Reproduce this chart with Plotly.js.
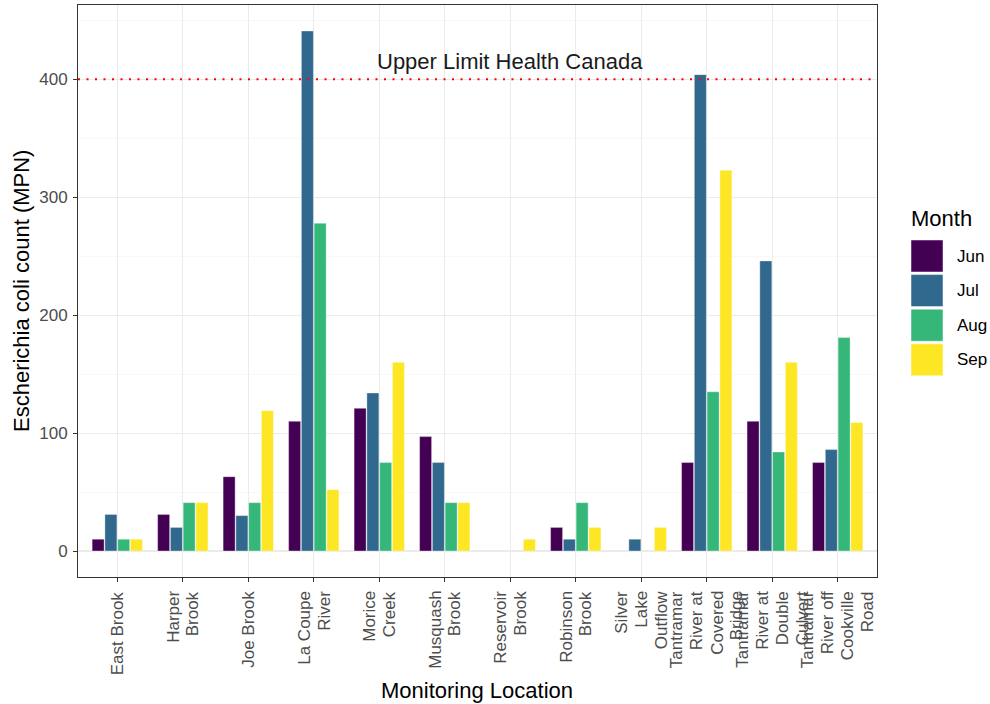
<!DOCTYPE html>
<html>
<head>
<meta charset="utf-8">
<script src="https://cdn.plot.ly/plotly-3.0.1.min.js"></script>
<style>
  html, body { margin: 0; padding: 0; background: #ffffff; }
  #chart { width: 990px; height: 704px; }
</style>
</head>
<body>
<div id="chart"></div>
<script>
// Monitoring locations
const locations = [
  "East Brook",
  "Harper Brook",
  "Joe Brook",
  "La Coupe River",
  "Morice Creek",
  "Musquash Brook",
  "Reservoir Brook",
  "Robinson Brook",
  "Silver Lake Outflow",
  "Tantramar River at Covered Bridge",
  "Tantramar River at Double Culvert",
  "Tantramar River off Cookville Road"
];

// Wrapped versions of the location names used for the rotated axis labels
const locationLabelLines = [
  ["East Brook"],
  ["Harper", "Brook"],
  ["Joe Brook"],
  ["La Coupe", "River"],
  ["Morice", "Creek"],
  ["Musquash", "Brook"],
  ["Reservoir", "Brook"],
  ["Robinson", "Brook"],
  ["Silver", "Lake", "Outflow"],
  ["Tantramar", "River at", "Covered", "Bridge"],
  ["Tantramar", "River at", "Double", "Culvert"],
  ["Tantramar", "River off", "Cookville", "Road"]
];

const months = ["Jun", "Jul", "Aug", "Sep"];
const monthColors = ["#440154", "#31688E", "#35B779", "#FDE725"];

// E. coli counts (MPN) per month, one value per location; null = no sample
const ecoliJun = [10, 31, 63, 110, 121, 97, null, 20, null, 75, 110, 75];
const ecoliJul = [31, 20, 30, 441, 134, 75, null, 10, 10, 404, 246, 86];
const ecoliAug = [10, 41, 41, 278, 75, 41, null, 41, null, 135, 84, 181];
const ecoliSep = [10, 41, 119, 52, 160, 41, 10, 20, 20, 323, 160, 109];

const seriesValues = [ecoliJun, ecoliJul, ecoliAug, ecoliSep];

// Health Canada guideline
const healthLimit = 400;
const healthLimitLabel = "Upper Limit Health Canada";

const xTitle = "Monitoring Location";
const yTitle = "Escherichia coli count (MPN)";
const legendTitle = "Month";

const fontFamily = "'Liberation Sans', Arial, Helvetica, sans-serif";
const tickSize = 17;
const titleSize = 22;
const lineStep = 20;   // spacing between wrapped label lines, px

const traces = months.map((m, i) => ({
  type: "bar",
  name: m,
  x: locations,
  y: seriesValues[i],
  marker: {
    color: monthColors[i],
    line: { color: "rgba(255,255,255,0.6)", width: 0.6 }
  },
  showlegend: false,
  hoverinfo: "x+y+name"
}));

// Plot area in pixels
const W = 990, H = 704;
const plotL = 78, plotR = 877, plotT = 5, plotB = 577;
const px = v => (v - plotL) / (plotR - plotL);
const py = v => (plotB - v) / (plotB - plotT);

const shapes = [
  {
    type: "line", xref: "paper", yref: "y",
    x0: 0, x1: 1, y0: healthLimit, y1: healthLimit,
    line: { color: "#ff0000", width: 2, dash: "2px,6.5px" },
    layer: "above"
  }
];

const annotations = [
  {
    xref: "x", yref: "y", x: locations[6], y: 415,
    text: healthLimitLabel, showarrow: false,
    font: { family: fontFamily, size: titleSize, color: "#1a1a1a" },
    xanchor: "center", yanchor: "middle"
  },
  {
    xref: "paper", yref: "paper", x: px(477), y: py(690),
    text: xTitle, showarrow: false,
    font: { family: fontFamily, size: titleSize, color: "#000000" },
    xanchor: "center", yanchor: "middle"
  },
  {
    xref: "paper", yref: "paper", x: px(21), y: py(291),
    text: yTitle, showarrow: false, textangle: -90,
    font: { family: fontFamily, size: titleSize, color: "#000000" },
    xanchor: "center", yanchor: "middle"
  },
  {
    xref: "paper", yref: "paper", x: px(909), y: py(218),
    text: legendTitle, showarrow: false,
    font: { family: fontFamily, size: titleSize, color: "#000000" },
    xanchor: "left", yanchor: "middle"
  }
];

// Rotated category labels, one text line per annotation, block centred on the tick
locations.forEach((loc, ci) => {
  const lines = locationLabelLines[ci];
  const n = lines.length;
  lines.forEach((ln, k) => {
    annotations.push({
      xref: "x", yref: "paper", x: loc, y: 0,
      xshift: (k - (n - 1) / 2) * lineStep,
      yshift: -12,
      text: ln, showarrow: false, textangle: -90,
      font: { family: fontFamily, size: tickSize, color: "#4d4d4d" },
      xanchor: "center", yanchor: "top"
    });
  });
});

// Legend with large square keys
months.forEach((m, i) => {
  const top = 240 + i * 34.6;
  shapes.push({
    type: "rect", xref: "paper", yref: "paper",
    x0: px(911), x1: px(943), y0: py(top + 32), y1: py(top),
    fillcolor: monthColors[i],
    line: { color: "rgba(255,255,255,0.6)", width: 0.8 }
  });
  annotations.push({
    xref: "paper", yref: "paper", x: px(955), y: py(top + 16),
    text: m, showarrow: false,
    font: { family: fontFamily, size: tickSize, color: "#000000" },
    xanchor: "left", yanchor: "middle"
  });
});

const layout = {
  width: W, height: H,
  margin: { l: plotL, r: W - plotR, t: plotT, b: H - plotB, pad: 0 },
  paper_bgcolor: "#ffffff",
  plot_bgcolor: "#ffffff",
  barmode: "group",
  bargap: 0.22,
  bargroupgap: 0.06,
  font: { family: fontFamily, color: "#4d4d4d" },
  showlegend: false,
  xaxis: {
    type: "category",
    range: [-0.6, 11.6],
    showticklabels: false,
    ticks: "outside", ticklen: 4, tickwidth: 1, tickcolor: "#333333",
    showgrid: true, gridcolor: "#ebebeb", gridwidth: 1.1,
    showline: true, linecolor: "#333333", linewidth: 1, mirror: true,
    zeroline: false,
    automargin: false
  },
  yaxis: {
    range: [-22.05, 463.05],
    tickvals: [0, 100, 200, 300, 400],
    tickfont: { family: fontFamily, size: tickSize, color: "#4d4d4d" },
    ticks: "outside", ticklen: 4, tickwidth: 1, tickcolor: "#333333",
    ticklabelstandoff: 2,
    showgrid: true, gridcolor: "#ebebeb", gridwidth: 1.1,
    minor: { tickvals: [50, 150, 250, 350, 450], showgrid: true, gridcolor: "#f3f3f3", gridwidth: 0.6, ticks: "" },
    showline: true, linecolor: "#333333", linewidth: 1, mirror: true,
    zeroline: false,
    automargin: false
  },
  shapes: shapes,
  annotations: annotations
};

Plotly.newPlot("chart", traces, layout, { displayModeBar: false, staticPlot: true });
</script>
</body>
</html>
